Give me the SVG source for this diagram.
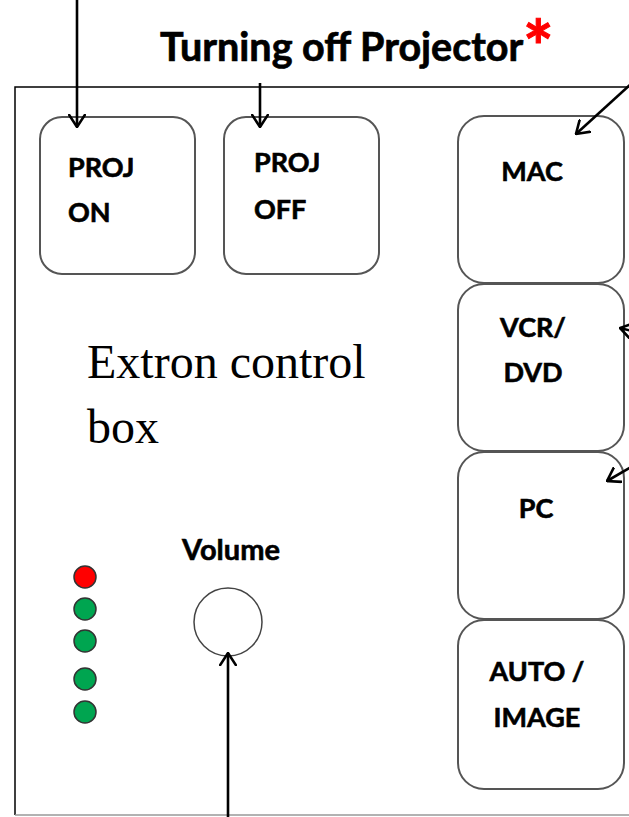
<svg xmlns="http://www.w3.org/2000/svg" width="629" height="817" viewBox="0 0 629 817">
<defs>
<style>
.btn{fill:#fff;stroke:#555;stroke-width:2}
.lbl{font-family:Lato,"Open Sans",sans-serif;font-weight:bold;font-size:27px;fill:#000;stroke:#000;stroke-width:0.6}
.conn{stroke:#000;stroke-width:2.6;fill:none;marker-end:url(#ah)}
.led{stroke:#333;stroke-width:1.5}
</style>
<marker id="ah" viewBox="0 0 14 18" refX="13" refY="9" markerWidth="14" markerHeight="18" markerUnits="userSpaceOnUse" orient="auto">
<path d="M0,0.5 L13,9 L0,17.5" fill="none" stroke="#000" stroke-width="2.6"/>
</marker>
</defs>
<rect width="629" height="817" fill="#fff"/>
<g id="title">
<text x="160" y="61" font-family="Lato,'Open Sans',sans-serif" font-weight="bold" font-size="39.5" fill="#000" stroke="#000" stroke-width="0.7">Turning off Projector</text>
<text x="523" y="74" font-family="Lato,'Open Sans',sans-serif" font-weight="bold" font-size="72" fill="#ff0000" stroke="#ff0000" stroke-width="1">*</text>
</g>
<g id="control-box">
<path d="M629,87 H15 V815" fill="none" stroke="#000" stroke-width="1.5"/>
<line x1="15" y1="815" x2="629" y2="815" stroke="#999" stroke-width="1.5"/>
<text x="87" y="378" font-family="'Liberation Serif',serif" font-size="48" fill="#000">Extron control</text>
<text x="87" y="443" font-family="'Liberation Serif',serif" font-size="48" fill="#000">box</text>
</g>
<g id="proj-on">
<rect class="btn" x="40" y="117" width="155" height="157" rx="22"/>
<text class="lbl" x="68" y="177">PROJ</text>
<text class="lbl" x="68" y="222">ON</text>
</g>
<g id="proj-off">
<rect class="btn" x="224" y="117" width="155" height="157" rx="22"/>
<text class="lbl" x="254" y="172">PROJ</text>
<text class="lbl" x="254" y="219">OFF</text>
</g>
<g id="mac">
<rect class="btn" x="458" y="116" width="166" height="167" rx="26"/>
<text class="lbl" x="532" y="181" text-anchor="middle">MAC</text>
</g>
<g id="vcr-dvd">
<rect class="btn" x="458" y="284" width="166" height="167" rx="26"/>
<text class="lbl" x="533" y="337" text-anchor="middle">VCR/</text>
<text class="lbl" x="533" y="382" text-anchor="middle">DVD</text>
</g>
<g id="pc">
<rect class="btn" x="458" y="452" width="166" height="167" rx="26"/>
<text class="lbl" x="536" y="518" text-anchor="middle">PC</text>
</g>
<g id="auto-image">
<rect class="btn" x="458" y="620" width="166" height="169" rx="26"/>
<text class="lbl" x="537" y="681" text-anchor="middle">AUTO /</text>
<text class="lbl" x="537" y="727" text-anchor="middle">IMAGE</text>
</g>
<g id="volume">
<text class="lbl" x="231" y="560" text-anchor="middle" style="font-size:29px">Volume</text>
<circle cx="228" cy="622" r="34" fill="#fff" stroke="#444" stroke-width="1.5"/>
</g>
<g id="leds">
<circle class="led" cx="85" cy="577" r="11" fill="#ff0000"/>
<circle class="led" cx="85" cy="609" r="11" fill="#00a550"/>
<circle class="led" cx="85" cy="641" r="11" fill="#00a550"/>
<circle class="led" cx="85" cy="679" r="11" fill="#00a550"/>
<circle class="led" cx="85" cy="712" r="11" fill="#00a550"/>
</g>
<g id="connectors">
<line class="conn" x1="77" y1="0" x2="77" y2="127"/>
<line class="conn" x1="260" y1="83" x2="260" y2="127"/>
<line class="conn" x1="631" y1="84" x2="576" y2="134"/>
<line class="conn" x1="640" y1="333" x2="620" y2="328"/>
<line class="conn" x1="640" y1="462" x2="607" y2="481"/>
<line class="conn" x1="228" y1="817" x2="228" y2="653"/>
</g>
</svg>
